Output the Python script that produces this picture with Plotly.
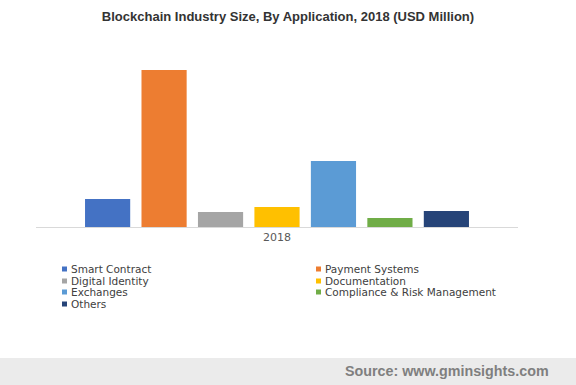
import plotly.graph_objects as go

categories = ["2018"]
series_names = ["Smart Contract", "Payment Systems", "Digital Identity", "Documentation",
                "Exchanges", "Compliance & Risk Management", "Others"]
series_values = [280, 1570, 150, 200, 660, 90, 160]
series_colors = ["#4472c4", "#ed7d31", "#a5a5a5", "#ffc000", "#5b9bd5", "#70ad47", "#264478"]

W, H = 576, 385
L, R, T, B = 36, 58, 55, 158
PW, PH = W - L - R, H - T - B

def px(x):
    return (x - L) / PW

def py(y):
    return (H - B - y) / PH

fig = go.Figure()
for name, val, col in zip(series_names, series_values, series_colors):
    fig.add_trace(go.Bar(x=categories, y=[val], name=name, marker_color=col,
                         marker_line_width=0, showlegend=False))

fig.update_layout(
    width=W, height=H,
    margin=dict(l=L, r=R, t=T, b=B),
    paper_bgcolor="white", plot_bgcolor="white",
    barmode="group", bargap=0.18, bargroupgap=0.2,
    title=dict(text="<b>Blockchain Industry Size, By Application, 2018 (USD Million)</b>",
               x=0.5, xanchor="center", y=1 - 16 / H, yanchor="middle",
               font=dict(family="Liberation Sans, Arial", size=13, color="#333333")),
    xaxis=dict(showline=True, linecolor="#d9d9d9", linewidth=1, showgrid=False,
               ticks="", tickfont=dict(family="DejaVu Sans", size=11, color="#595959")),
    yaxis=dict(visible=False, range=[0, 1720], showgrid=False),
)

# legend drawn as two-column entries
col_x = [62, 316]
row_y = [269, 281, 292, 304]
for i, (name, col) in enumerate(zip(series_names, series_colors)):
    r, c = divmod(i, 2)
    x0, yc = col_x[c], row_y[r]
    fig.add_shape(type="rect", xref="paper", yref="paper",
                  x0=px(x0), x1=px(x0 + 5), y0=py(yc + 2.5), y1=py(yc - 2.5),
                  fillcolor=col, line_width=0)
    fig.add_annotation(
        xref="paper", yref="paper", x=px(x0 + 7), y=py(yc),
        xanchor="left", yanchor="middle", showarrow=False,
        text=name,
        font=dict(family="DejaVu Sans", size=10.5, color="#404040"),
    )

# source band
fig.add_shape(type="rect", xref="paper", yref="paper",
              x0=px(0), x1=px(W), y0=py(358), y1=py(H),
              fillcolor="#ebebeb", line_width=0, layer="below")
fig.add_annotation(xref="paper", yref="paper", x=px(551), y=py(371),
                   xanchor="right", yanchor="middle", showarrow=False,
                   text="<b>Source: www.gminsights.com</b>",
                   font=dict(family="Liberation Sans, Arial", size=14.3, color="#7f7f7f"))

fig.write_html("out.html", config={"displayModeBar": False},
               post_script="document.body.style.margin='0';")
